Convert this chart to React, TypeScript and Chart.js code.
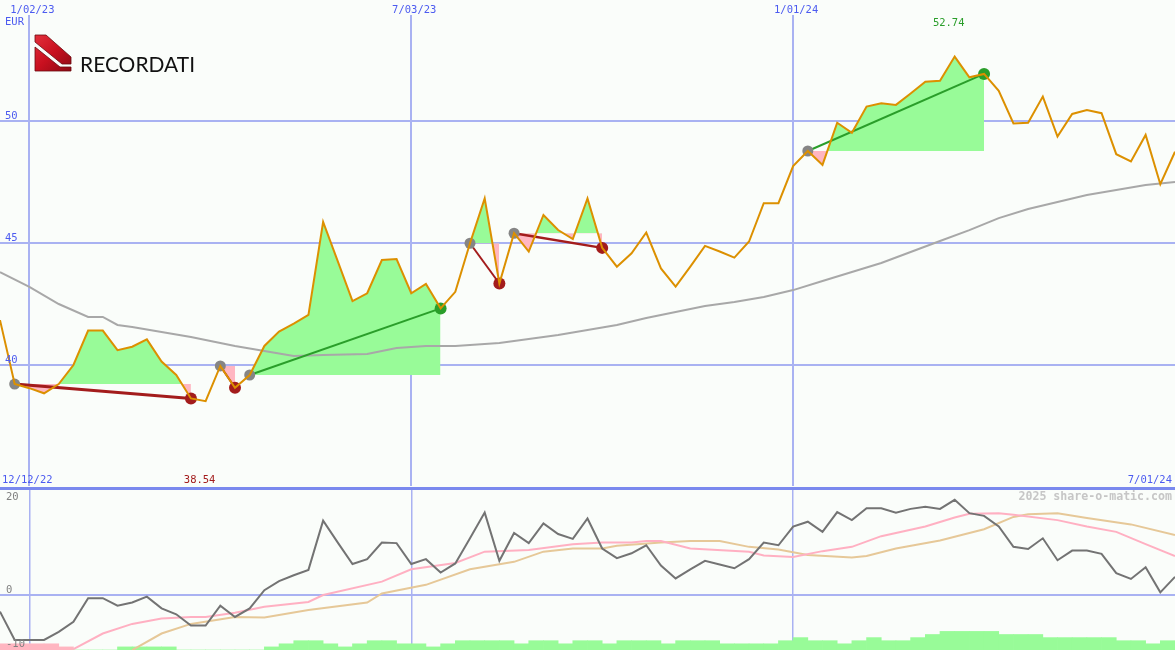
import React, { useEffect, useRef } from "react";
import { Chart, registerables } from "chart.js";

Chart.register(...registerables);

// ---------- data ----------
const weekMax = 80; // weekly points 0..80
const dateTickIdx = [2, 28, 54];
const dateTickLabels = ["1/02/23", "7/03/23", "1/01/24"];
const rangeLabels = ["12/12/22", "7/01/24"];
const currency = "EUR";
const brand = "RECORDATI";
const watermark = "2025 share-o-matic.com";
const priceTicks = [40, 45, 50];
const oscTicks = [20, 0, -10];
const lowLabel = 38.54;
const highLabel = 52.74;

const price = [
  41.84, 39.22, 39.05, 38.84, 39.22, 40.0, 41.41, 41.41, 40.61, 40.75,
  41.05, 40.14, 39.59, 38.63, 38.52, 39.96, 39.07, 39.59, 40.78, 41.37,
  41.7, 42.05, 45.86, 44.25, 42.62, 42.94, 44.3, 44.34, 42.94, 43.32,
  42.32, 43.0, 44.99, 46.83, 43.34, 45.4, 44.65, 46.15, 45.53, 45.16,
  46.83, 44.8, 44.03, 44.58, 45.43, 43.96, 43.21, 44.03, 44.88, 44.65,
  44.4, 45.06, 46.63, 46.63, 48.15, 48.77, 48.2, 49.93, 49.52, 50.59,
  50.73, 50.66, 51.13, 51.61, 51.65, 52.64, 51.79, 51.93, 51.24, 49.9,
  49.93, 51.0, 49.36, 50.29, 50.45, 50.32, 48.64, 48.34, 49.43, 47.41,
  48.74,
];

const movingAvg: [number, number][] = [
  [0, 43.81], [2, 43.2], [4, 42.5], [6, 41.97], [7, 41.97], [8, 41.64], [9, 41.56],
  [11, 41.35], [13, 41.15], [16, 40.78], [18, 40.57], [20, 40.37], [22, 40.41],
  [25, 40.45], [27, 40.7], [29, 40.78], [31, 40.78], [34, 40.9], [36, 41.07],
  [38, 41.23], [40, 41.43], [42, 41.64], [44, 41.93], [46, 42.17], [48, 42.42],
  [50, 42.58], [52, 42.79], [54, 43.07], [56, 43.44], [58, 43.81], [60, 44.18],
  [62, 44.63], [64, 45.08], [66, 45.53], [68, 46.02], [70, 46.39], [72, 46.68],
  [74, 46.97], [76, 47.17], [78, 47.38], [80, 47.5],
];

const trendStart = [1, 15, 17, 32, 35, 55];
const trendEnd = [13, 16, 30, 34, 41, 67];
const trendUp = [false, false, true, false, false, true];
const trendWidth = [3, 2, 2, 2, 2.5, 2];

const osc = [
  -3.1, -8.4, -8.4, -8.4, -6.9, -5.0, -0.6, -0.6, -2.0, -1.4,
  -0.3, -2.5, -3.6, -5.7, -5.7, -2.0, -4.1, -2.5, 0.9, 2.6,
  3.7, 4.7, 13.9, 9.8, 5.8, 6.7, 9.8, 9.7, 5.8, 6.7,
  4.2, 5.9, 10.6, 15.4, 6.4, 11.6, 9.7, 13.4, 11.4, 10.5,
  14.3, 8.7, 6.9, 7.8, 9.3, 5.5, 3.1, 4.8, 6.4, 5.7,
  5.0, 6.7, 9.8, 9.3, 12.8, 13.7, 11.8, 15.5, 14.0, 16.2,
  16.2, 15.4, 16.1, 16.5, 16.1, 17.8, 15.3, 14.8, 12.8, 9.0,
  8.6, 10.6, 6.5, 8.3, 8.3, 7.7, 4.1, 3.0, 5.2, 0.5,
  3.4,
];

const oscFast: [number, number][] = [
  [5, -10.1], [7, -7.2], [9, -5.4], [11, -4.4], [13, -4.1], [14, -4.1], [16, -3.3],
  [18, -2.2], [21, -1.3], [22, 0.0], [26, 2.5], [28, 4.8], [31, 6.0], [33, 8.1],
  [36, 8.4], [39, 9.5], [41, 9.8], [43, 9.8], [44, 10.1], [45, 10.1], [47, 8.7],
  [51, 8.1], [52, 7.4], [54, 7.1], [56, 8.2], [58, 9.0], [60, 11.0], [63, 12.8],
  [65, 14.5], [66, 15.2], [68, 15.3], [69, 15.0], [72, 14.0], [74, 12.8],
  [76, 11.8], [78, 9.5], [80, 7.3],
];

const oscSlow: [number, number][] = [
  [9, -10.3], [11, -7.2], [13, -5.4], [16, -4.1], [18, -4.2], [21, -2.8], [25, -1.4],
  [26, 0.3], [29, 1.9], [32, 4.8], [35, 6.2], [37, 8.1], [39, 8.7], [41, 8.7],
  [42, 9.2], [45, 9.8], [47, 10.1], [49, 10.1], [51, 9.0], [53, 8.5], [55, 7.5],
  [58, 7.0], [59, 7.3], [61, 8.7], [64, 10.2], [67, 12.3], [69, 14.6], [70, 15.1],
  [72, 15.3], [74, 14.4], [77, 13.2], [80, 11.2],
];

const hist = [
  -2, -2, -2, -2, -1, 0, 0, 0, 1, 1,
  1, 1, 0, 0, 0, 0, 0, 0, 1, 2,
  3, 3, 2, 1, 2, 3, 3, 2, 2, 1,
  2, 3, 3, 3, 3, 2, 3, 3, 2, 3,
  3, 2, 3, 3, 3, 2, 3, 3, 3, 2,
  2, 2, 2, 3, 4, 3, 3, 2, 3, 4,
  3, 3, 4, 5, 6, 6, 6, 6, 5, 5,
  5, 4, 4, 4, 4, 4, 3, 3, 2, 3,
];

// ---------- styles ----------
const BG = "#fafdfa";
const GRID = "#a9b2f2";
const SEP = "#7a89ee";
const BLUE_TXT = "#4c5bf0";
const FONT = '10.5px "DejaVu Sans Mono"';
const GREEN_FILL = "#98fb98";
const PINK_FILL = "#ffb6c1";
const RED = "#a31c1c";
const GREEN = "#2a9e2a";

const bgPlugin = {
  id: "bg",
  beforeDraw(chart: any) {
    const c = chart.ctx;
    c.save();
    c.fillStyle = BG;
    c.fillRect(0, 0, chart.width, chart.height);
    c.restore();
  },
};

function drawLogo(c: CanvasRenderingContext2D, x: number, y: number) {
  const shapes = [
    [[0, 0], [11, 0], [36, 22], [36, 29], [27, 29], [0, 7]],
    [[0, 12], [25, 32], [36, 32], [36, 36], [0, 36]],
  ];
  const g = c.createLinearGradient(x, y, x + 36, y + 36);
  g.addColorStop(0, "#e3303c");
  g.addColorStop(0.5, "#c8101f");
  g.addColorStop(1, "#8c0a14");
  c.save();
  c.fillStyle = g;
  c.strokeStyle = "#6a0a10";
  c.lineWidth = 0.8;
  for (const s of shapes) {
    c.beginPath();
    s.forEach(([px, py], i) => (i ? c.lineTo(x + px, y + py) : c.moveTo(x + px, y + py)));
    c.closePath();
    c.fill();
    c.stroke();
  }
  c.fillStyle = "#111111";
  c.font = '400 22px Lato';
  c.textAlign = "left";
  c.textBaseline = "alphabetic";
  const w = c.measureText(brand).width;
  c.translate(80, 72);
  c.scale(115 / w, 1);
  c.fillText(brand, 0, 0);
  c.restore();
}

const topLabels = {
  id: "topLabels",
  afterDraw(chart: any) {
    const c: CanvasRenderingContext2D = chart.ctx;
    const xS = chart.scales.x;
    const yS = chart.scales.y;
    c.save();
    c.font = FONT;
    c.textBaseline = "alphabetic";
    c.fillStyle = BLUE_TXT;
    c.textAlign = "center";
    dateTickIdx.forEach((v, i) => c.fillText(dateTickLabels[i], xS.getPixelForValue(v) + 3, 12.5));
    c.textAlign = "left";
    c.fillText(currency, 5, 25);
    priceTicks.forEach((v) => c.fillText(String(v), 5, yS.getPixelForValue(v) - 2));
    c.fillText(rangeLabels[0], 2, 483);
    c.textAlign = "right";
    c.fillText(rangeLabels[1], 1172, 483);
    let mi = 0;
    let mx = 0;
    price.forEach((v, i) => {
      if (v < price[mi]) mi = i;
      if (v > price[mx]) mx = i;
    });
    c.textAlign = "center";
    c.fillStyle = RED;
    c.fillText(lowLabel.toFixed(2), xS.getPixelForValue(mi) - 6, 483);
    c.fillStyle = GREEN;
    c.fillText(highLabel.toFixed(2), xS.getPixelForValue(mx) - 6, 25.5);
    c.restore();
    drawLogo(c, 35, 35);
  },
};

const bottomLabels = {
  id: "bottomLabels",
  afterDraw(chart: any) {
    const c: CanvasRenderingContext2D = chart.ctx;
    const yS = chart.scales.y;
    c.save();
    c.font = FONT;
    c.fillStyle = "#808080";
    c.textAlign = "left";
    c.textBaseline = "alphabetic";
    oscTicks.forEach((v) => {
      const p = yS.getPixelForValue(v);
      let ty = p - 2;
      if (ty - 8 < chart.chartArea.top) ty = p + 12;
      c.fillText(String(v), 6, ty);
    });
    c.font = 'bold 11.6px "DejaVu Sans Mono"';
    c.fillStyle = "#c6c6c6";
    c.textAlign = "right";
    c.fillText(watermark, 1172, 14);
    c.restore();
  },
};

const xTicks = (s: any) => {
  s.ticks = dateTickIdx.map((v) => ({ value: v }));
};

export default function App() {
  const topRef = useRef<HTMLCanvasElement>(null);
  const botRef = useRef<HTMLCanvasElement>(null);

  useEffect(() => {
    const pts = price.map((v, i) => ({ x: i, y: v }));
    const datasets: any[] = [
      { data: pts, borderColor: "#dc9000", borderWidth: 2, pointRadius: 0, order: 0 },
      {
        data: trendStart.map((i) => ({ x: i, y: price[i] })),
        showLine: false,
        pointRadius: 5.5,
        pointBackgroundColor: "#858585",
        pointBorderWidth: 0,
        order: 1,
      },
      {
        data: trendEnd.map((i) => ({ x: i, y: price[i] })),
        showLine: false,
        pointRadius: 6,
        pointBackgroundColor: trendUp.map((u) => (u ? GREEN : RED)),
        pointBorderWidth: 0,
        order: 1,
      },
      ...trendStart.map((s, k) => ({
        data: [
          { x: s, y: price[s] },
          { x: trendEnd[k], y: price[trendEnd[k]] },
        ],
        borderColor: trendUp[k] ? GREEN : RED,
        borderWidth: trendWidth[k],
        pointRadius: 0,
        order: 2,
      })),
      {
        data: movingAvg.map(([x, y]) => ({ x, y })),
        borderColor: "#a8a8a8",
        borderWidth: 2,
        pointRadius: 0,
        order: 3,
      },
      ...trendStart.map((s, k) => ({
        data: price.slice(s, trendEnd[k] + 1).map((v, j) => ({ x: s + j, y: v })),
        borderColor: "rgba(0,0,0,0)",
        borderWidth: 0,
        pointRadius: 0,
        fill: { target: { value: price[s] }, above: GREEN_FILL, below: PINK_FILL },
        order: 4,
      })),
    ];

    const top = new Chart(topRef.current!, {
      type: "line",
      data: { datasets },
      options: {
        responsive: false,
        animation: false,
        devicePixelRatio: 1,
        events: [],
        layout: { padding: 0, autoPadding: false },
        plugins: { legend: { display: false }, tooltip: { enabled: false } },
        scales: {
          x: {
            type: "linear",
            position: "top",
            min: 0,
            max: weekMax,
            offset: false,
            afterBuildTicks: xTicks,
            afterFit: (s: any) => {
              s.height = 15;
            },
            ticks: { display: false },
            border: { display: false },
            grid: { color: GRID, lineWidth: 2, drawTicks: false, offset: false },
          },
          y: {
            type: "linear",
            min: 35.041,
            max: 54.344,
            afterBuildTicks: (s: any) => {
              s.ticks = priceTicks.map((v) => ({ value: v }));
            },
            afterFit: (s: any) => {
              s.width = 0;
            },
            ticks: { display: false },
            border: { display: false },
            grid: { color: GRID, lineWidth: 2, drawTicks: false },
          },
        },
      } as any,
      plugins: [bgPlugin, topLabels],
    });

    const bot = new Chart(botRef.current!, {
      type: "line",
      data: {
        datasets: [
          { data: osc.map((v, i) => ({ x: i, y: v })), borderColor: "#737373", borderWidth: 2, pointRadius: 0, order: 0 },
          { data: oscFast.map(([x, y]) => ({ x, y })), borderColor: "#ffb0c2", borderWidth: 2, pointRadius: 0, order: 1 },
          { data: oscSlow.map(([x, y]) => ({ x, y })), borderColor: "#e6c898", borderWidth: 2, pointRadius: 0, order: 2 },
          {
            type: "bar",
            data: hist.map((v, k) => ({ x: k + 0.5, y: Math.abs(v) })),
            backgroundColor: hist.map((v) => (v < 0 ? PINK_FILL : GREEN_FILL)),
            borderWidth: 0,
            barPercentage: 1,
            categoryPercentage: 1,
            yAxisID: "yh",
            order: 3,
          },
        ] as any,
      },
      options: {
        responsive: false,
        animation: false,
        devicePixelRatio: 1,
        events: [],
        layout: { padding: { top: 1, left: 0, right: 0, bottom: 0 }, autoPadding: false },
        plugins: { legend: { display: false }, tooltip: { enabled: false } },
        scales: {
          x: {
            type: "linear",
            position: "bottom",
            min: 0,
            max: weekMax,
            offset: false,
            afterBuildTicks: xTicks,
            afterFit: (s: any) => {
              s.height = 0;
            },
            ticks: { display: false },
            border: { display: false },
            grid: { color: GRID, lineWidth: 1.5, drawTicks: false, offset: false },
          },
          y: {
            type: "linear",
            min: -10.28,
            max: 20.19,
            afterBuildTicks: (s: any) => {
              s.ticks = [0, 20].map((v) => ({ value: v }));
            },
            afterFit: (s: any) => {
              s.width = 0;
            },
            ticks: { display: false },
            border: { display: false },
            grid: {
              color: (ctx: any) => (ctx.tick && ctx.tick.value === 20 ? SEP : GRID),
              lineWidth: (ctx: any) => (ctx.tick && ctx.tick.value === 20 ? 3 : 2),
              drawTicks: false,
            },
          },
          yh: { type: "linear", display: false, min: 0, max: 52.6 },
        },
      } as any,
      plugins: [bgPlugin, bottomLabels],
    });

    return () => {
      top.destroy();
      bot.destroy();
    };
  }, []);

  return (
    <div style={{ position: "fixed", left: 0, top: 0, width: 1175, height: 650, background: BG }}>
      <canvas ref={topRef} width={1175} height={486} style={{ display: "block" }} />
      <canvas ref={botRef} width={1175} height={164} style={{ display: "block" }} />
    </div>
  );
}
